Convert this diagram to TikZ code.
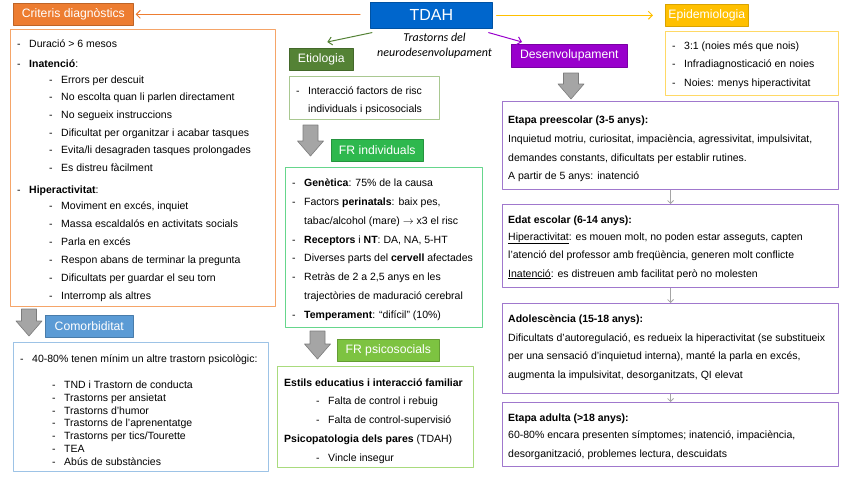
\documentclass[tikz,border=0pt]{standalone}
\usepackage{fontspec}
\setmainfont{Liberation Sans}
\newfontfamily\subtitlefont{Carlito}
\usetikzlibrary{arrows.meta}

\definecolor{tdahblue}{RGB}{0,102,204}
\definecolor{critorange}{RGB}{237,125,49}
\definecolor{critline}{RGB}{245,165,105}
\definecolor{comorbblue}{RGB}{91,155,213}
\definecolor{comorbline}{RGB}{157,195,230}
\definecolor{etiogreen}{RGB}{84,130,53}
\definecolor{etioline}{RGB}{169,200,145}
\definecolor{indgreen}{RGB}{46,184,78}
\definecolor{indline}{RGB}{102,214,140}
\definecolor{psicogreen}{RGB}{125,195,65}
\definecolor{psicoline}{RGB}{169,219,125}
\definecolor{epigold}{RGB}{255,192,0}
\definecolor{epiline}{RGB}{255,217,102}
\definecolor{desenpurple}{RGB}{153,0,204}
\definecolor{desenline}{RGB}{160,120,205}
\definecolor{arrowgrey}{RGB}{165,165,165}

\newcommand{\itemdash}{\makebox[12pt][l]{-}}

\begin{document}
\begin{tikzpicture}[x=1pt,y=-1pt,line cap=round,line join=round,
    >={Straight Barb[length=4pt,width=8pt]},
    header/.style={text=white,font=\fontsize{12.2}{14}\selectfont,minimum height=22pt,
      inner sep=0pt,anchor=north west,line width=0.6pt},
    box/.style={line width=1.2pt,anchor=north west,inner sep=0pt,minimum width=336pt},
    txt/.style={anchor=base west,inner sep=0pt,font=\fontsize{10.5}{12}\selectfont},
    blockarrow/.style={fill=arrowgrey,draw=arrowgrey!75!black,line width=0.6pt},
    stepline/.style={draw=arrowgrey,line width=0.8pt,
      -{Straight Barb[length=3pt,width=6pt]}}]
  \useasboundingbox (0,0) rectangle (848,477);

  % Centre
  \node[header,fill=tdahblue,draw=tdahblue!80!black,minimum width=122pt,minimum height=26pt,
    font=\fontsize{16}{18}\selectfont] (tdah) at (370,2) {TDAH};
  \node[font=\subtitlefont\itshape\fontsize{12}{15}\selectfont,align=center,inner sep=0pt]
    (tdahsub) at (434.5,45.5) {Trastorns del\\neurodesenvolupament};

  % Headers
  \node[header,fill=critorange,draw=critorange!80!black,minimum width=120pt] (crithead) at (13,3) {Criteris diagnòstics};
  \node[header,fill=comorbblue,draw=comorbblue!80!black,minimum width=88pt] (comorbhead) at (45,315) {Comorbiditat};
  \node[header,fill=etiogreen,draw=etiogreen!80!black,minimum width=64pt] (etiohead) at (289,48) {Etiologia};
  \node[header,fill=indgreen,draw=indgreen!80!black,minimum width=92pt] (indhead) at (331,139) {FR individuals};
  \node[header,fill=psicogreen,draw=psicogreen!80!black,minimum width=102pt] (psicohead) at (337,339) {FR psicosocials};
  \node[header,fill=epigold,draw=epigold!85!black,minimum width=83pt] (epihead) at (665,4) {Epidemiologia};
  \node[header,fill=desenpurple,draw=desenpurple!80!black,minimum width=116pt,minimum height=23pt] (desenhead) at (511,44) {Desenvolupament};

  % Boxes
  \node[box,draw=critline,minimum width=265pt,minimum height=277pt] (critbox) at (10,29) {};
  \node[box,draw=comorbline,minimum width=255pt,minimum height=129pt] (comorbbox) at (13,342) {};
  \node[box,draw=etioline,minimum width=150pt,minimum height=43pt] (etiobox) at (289,76) {};
  \node[box,draw=indline,minimum width=197pt,minimum height=160pt] (indbox) at (285,167) {};
  \node[box,draw=psicoline,minimum width=196pt,minimum height=101pt] (psicobox) at (277,366) {};
  \node[box,draw=epiline,minimum width=173pt,minimum height=64pt] (epibox) at (665,31) {};
  \node[box,draw=desenline,minimum height=88pt] (prees) at (502,101) {};
  \node[box,draw=desenline,minimum height=83pt] (edat) at (502,204) {};
  \node[box,draw=desenline,minimum height=90pt] (adol) at (502,303) {};
  \node[box,draw=desenline,minimum height=64pt] (adult) at (502,402) {};

  % Arrows from TDAH
  \draw[critorange,line width=1pt,->,shorten >=2pt] (crithead.east -| tdah.west) ++(-10,0) -- (crithead.east);
  \draw[epigold,line width=1pt,->,shorten <=4pt,shorten >=12pt] (tdah.east) -- (epihead.west);
  \draw[etiogreen,line width=1pt,->] ([shift={(2,4)}]tdah.south west) -- ([shift={(6,-6)}]etiohead.north);
  \draw[desenpurple,line width=1pt,->] ([shift={(-4,4)}]tdah.south east) -- ([shift={(11,-2)}]desenhead.north west);

  % Grey block arrows (centre x / top y / length)
  \foreach \ax/\ay/\ah in {29/309/27, 310.5/125/31, 317.5/331/28, 571/73/26}
    \draw[blockarrow] (\ax-7.5,\ay) -- (\ax+7.5,\ay) -- (\ax+7.5,\ay+\ah-15) -- (\ax+13,\ay+\ah-15)
      -- (\ax,\ay+\ah) -- (\ax-13,\ay+\ah-15) -- (\ax-7.5,\ay+\ah-15) -- cycle;

  % Steps of development
  \draw[stepline] (prees.south) -- (edat.north);
  \draw[stepline] (edat.south) -- (adol.north);
  \draw[stepline] (adol.south) -- (adult.north);

  % Criteris
  \foreach \ly/\lx/\lt [count=\i] in {
      47/17/{\itemdash Duració > 6 mesos},
      67/17/{\itemdash \textbf{Inatenció}:},
      83/49/{\itemdash Errors per descuit},
      100/49/{\itemdash No escolta quan li parlen directament},
      118/49/{\itemdash No segueix instruccions},
      136/49/{\itemdash Dificultat per organitzar i acabar tasques},
      153/49/{\itemdash Evita/li desagraden tasques prolongades},
      171/49/{\itemdash Es distreu fàcilment},
      193/17/{\itemdash \textbf{Hiperactivitat}:},
      209/49/{\itemdash Moviment en excés, inquiet},
      227/49/{\itemdash Massa escaldalós en activitats socials},
      245/49/{\itemdash Parla en excés},
      263/49/{\itemdash Respon abans de terminar la pregunta},
      281/49/{\itemdash Dificultats per guardar el seu torn},
      299/49/{\itemdash Interromp als altres}}
    \node[txt] (crit\i) at (\lx,\ly) {\lt};

  % Comorbiditat
  \foreach \ly/\lx/\lt [count=\i] in {
      362/20/{\itemdash 40-80\% tenen mínim un altre trastorn psicològic:},
      388/52/{\itemdash TND i Trastorn de conducta},
      401/52/{\itemdash Trastorns per ansietat},
      414/52/{\itemdash Trastorns d’humor},
      426/52/{\itemdash Trastorns de l’aprenentatge},
      439/52/{\itemdash Trastorns per tics/Tourette},
      452/52/{\itemdash TEA},
      465/52/{\itemdash Abús de substàncies}}
    \node[txt] (comorb\i) at (\lx,\ly) {\lt};

  % Etiologia
  \node[txt] (etio1) at (296,94) {\itemdash Interacció factors de risc};
  \node[txt] (etio2) at (308,112) {individuals i psicosocials};

  % FR individuals
  \foreach \ly/\lx/\lt [count=\i] in {
      186/292/{\itemdash \textbf{Genètica}: 75\% de la causa},
      205/292/{\itemdash Factors \textbf{perinatals}: baix pes,},
      224/304/{tabac/alcohol (mare) $\rightarrow$ x3 el risc},
      243/292/{\itemdash \textbf{Receptors} i \textbf{NT}: DA, NA, 5-HT},
      261/292/{\itemdash Diverses parts del \textbf{cervell} afectades},
      280/292/{\itemdash Retràs de 2 a 2,5 anys en les},
      299/304/{trajectòries de maduració cerebral},
      318/292/{\itemdash \textbf{Temperament}: “difícil” (10\%)}}
    \node[txt] (ind\i) at (\lx,\ly) {\lt};

  % FR psicosocials
  \foreach \ly/\lx/\lt [count=\i] in {
      386/284/{\textbf{Estils educatius i interacció familiar}},
      404/316/{\itemdash Falta de control i rebuig},
      423/316/{\itemdash Falta de control-supervisió},
      442/284/{\textbf{Psicopatologia dels pares} (TDAH)},
      461/316/{\itemdash Vincle insegur}}
    \node[txt] (psico\i) at (\lx,\ly) {\lt};

  % Epidemiologia
  \foreach \ly/\lt [count=\i] in {
      49/{\itemdash 3:1 (noies més que nois)},
      67/{\itemdash Infradiagnosticació en noies},
      86/{\itemdash Noies: menys hiperactivitat}}
    \node[txt] (epi\i) at (672,\ly) {\lt};

  % Desenvolupament
  \foreach \ly/\lt [count=\i] in {
      123/{\textbf{Etapa preescolar (3-5 anys):}},
      142/{Inquietud motriu, curiositat, impaciència, agressivitat, impulsivitat,},
      161/{demandes constants, dificultats per establir rutines.},
      179/{A partir de 5 anys: inatenció},
      223/{\textbf{Edat escolar (6-14 anys):}},
      240/{\underline{Hiperactivitat}: es mouen molt, no poden estar asseguts, capten},
      258/{l’atenció del professor amb freqüència, generen molt conflicte},
      277/{\underline{Inatenció}: es distreuen amb facilitat però no molesten},
      322/{\textbf{Adolescència (15-18 anys):}},
      341/{Dificultats d’autoregulació, es redueix la hiperactivitat (se substitueix},
      359/{per una sensació d’inquietud interna), manté la parla en excés,},
      378/{augmenta la impulsivitat, desorganitzats, QI elevat},
      421/{\textbf{Etapa adulta (>18 anys):}},
      438/{60-80\% encara presenten símptomes; inatenció, impaciència,},
      457/{desorganització, problemes lectura, descuidats}}
    \node[txt] (desen\i) at (508,\ly) {\lt};
\end{tikzpicture}
\end{document}
